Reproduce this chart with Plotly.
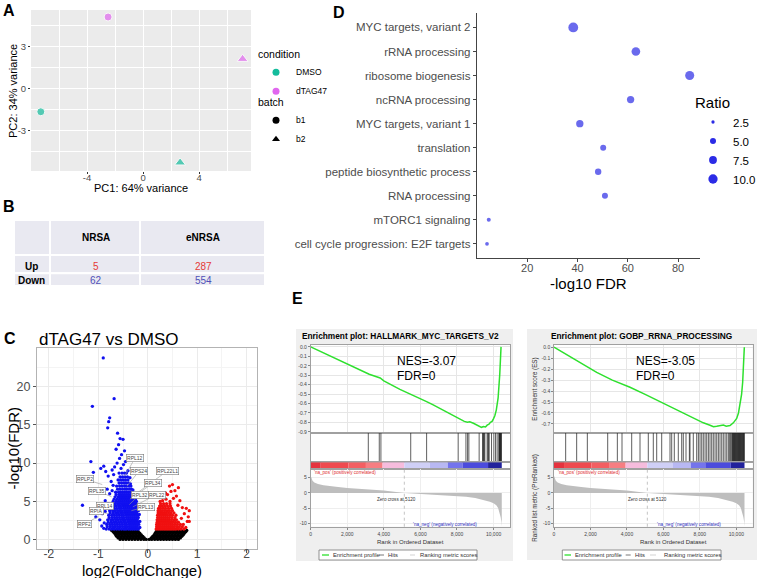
import plotly.graph_objects as go

W, H = 764, 578
FONT = "Liberation Sans"


def X(px):
    return px / W


def Y(py):
    return 1 - py / H


# ---------------- Panel A : PCA ----------------
pc1 = [-7.3, -2.5, 2.64, 7.1]
pc2 = [-1.67, 5.1, -5.3, 2.1]
condition = ["DMSO", "dTAG47", "DMSO", "dTAG47"]
batch = ["b1", "b1", "b2", "b2"]
cond_levels = ["DMSO", "dTAG47"]
batch_levels = ["b1", "b2"]
cond_colors = {"DMSO": "#14BC9C", "dTAG47": "#E067EE"}
batch_symbols = {"b1": "circle", "b2": "triangle-up"}

# ---------------- Panel B : table ----------------
table_header = ["", "NRSA", "eNRSA"]
table_rows = ["Up", "Down"]
nrsa_counts = [5, 62]
enrsa_counts = [287, 554]

# ---------------- Panel C : volcano ----------------
blue_bands = [
    (1.4, [-0.84, -0.78, -0.73, -0.68, -0.63, -0.58, -0.53, -0.48, -0.44, -0.39, -0.35, -0.31, -0.27, -0.23, -0.19]),
    (1.7, [-0.82, -0.76, -0.71, -0.66, -0.61, -0.56, -0.51, -0.46, -0.42, -0.37, -0.33, -0.29, -0.25, -0.21]),
    (2.0, [-0.83, -0.77, -0.72, -0.67, -0.62, -0.57, -0.52, -0.47, -0.43, -0.38, -0.34, -0.30, -0.26, -0.22, -0.18]),
    (2.3, [-0.80, -0.74, -0.69, -0.64, -0.59, -0.54, -0.49, -0.45, -0.40, -0.36, -0.32, -0.28, -0.24, -0.20]),
    (2.6, [-0.81, -0.75, -0.70, -0.65, -0.60, -0.55, -0.50, -0.46, -0.41, -0.37, -0.33, -0.29, -0.25, -0.21]),
    (2.9, [-0.78, -0.72, -0.67, -0.62, -0.57, -0.52, -0.48, -0.43, -0.39, -0.35, -0.31, -0.27, -0.23, -0.19]),
    (3.2, [-0.79, -0.73, -0.68, -0.63, -0.58, -0.53, -0.49, -0.44, -0.40, -0.36, -0.32, -0.28, -0.24, -0.20]),
    (3.5, [-0.76, -0.70, -0.65, -0.60, -0.55, -0.51, -0.46, -0.42, -0.38, -0.34, -0.30, -0.26, -0.22]),
    (3.8, [-0.77, -0.71, -0.66, -0.61, -0.56, -0.52, -0.47, -0.43, -0.39, -0.35, -0.31, -0.27, -0.23, -0.19]),
    (4.1, [-0.74, -0.68, -0.63, -0.58, -0.54, -0.49, -0.45, -0.41, -0.37, -0.33, -0.29, -0.25, -0.21]),
    (4.4, [-0.75, -0.69, -0.64, -0.59, -0.55, -0.50, -0.46, -0.42, -0.38, -0.34, -0.30, -0.26, -0.22]),
    (4.7, [-0.72, -0.66, -0.61, -0.57, -0.52, -0.48, -0.44, -0.40, -0.36, -0.32, -0.28, -0.24]),
    (5.0, [-0.70, -0.64, -0.59, -0.55, -0.51, -0.47, -0.43, -0.39, -0.35, -0.31, -0.27, -0.23]),
    (5.3, [-0.68, -0.62, -0.57, -0.53, -0.49, -0.45, -0.41, -0.37, -0.33, -0.29, -0.25]),
    (5.6, [-0.66, -0.60, -0.56, -0.52, -0.48, -0.44, -0.40, -0.36, -0.32, -0.28]),
    (5.9, [-0.64, -0.58, -0.54, -0.50, -0.46, -0.42, -0.38, -0.34, -0.30]),
    (6.2, [-0.65, -0.59, -0.55, -0.51, -0.47, -0.43, -0.39, -0.35, -0.31]),
    (6.6, [-0.61, -0.56, -0.51, -0.46, -0.42, -0.37, -0.33]),
    (7.0, [-0.63, -0.57, -0.52, -0.47, -0.43, -0.38, -0.34]),
    (7.4, [-0.58, -0.53, -0.48, -0.44, -0.39]),
    (7.8, [-0.60, -0.55, -0.50, -0.45, -0.40]),
    (8.2, [-0.56, -0.51, -0.46, -0.41]),
    (8.7, [-0.58, -0.52, -0.47, -0.43]),
]
blue_extra = [
    (-0.90, 23.7), (-1.12, 17.4), (-0.68, 18.4), (-0.77, 15.9), (-0.79, 15.4), (-0.81, 14.6),
    (-0.61, 13.9), (-0.56, 13.2), (-0.50, 13.1), (-0.59, 12.4), (-0.64, 11.8), (-0.47, 11.6),
    (-0.53, 11.1), (-0.57, 10.6), (-0.45, 10.2), (-0.62, 10.0), (-1.15, 10.2), (-1.10, 8.8),
    (-0.95, 9.3), (-0.89, 9.6), (-0.85, 8.9), (-0.80, 8.3), (-0.72, 9.1), (-0.67, 9.5),
    (-0.49, 9.8), (-0.54, 9.3), (-0.40, 9.0), (-0.69, 8.5), (-0.74, 7.6), (-0.70, 7.1),
    (-0.36, 8.1), (-0.35, 7.3), (-0.82, 6.6), (-0.77, 6.0), (-0.72, 6.4), (-0.86, 5.1),
    (-0.80, 4.7), (-0.91, 4.2), (-1.32, 4.5), (-1.05, 3.0), (-0.97, 2.6), (-0.92, 3.4),
    (-0.86, 3.7), (-0.88, 2.2), (-0.93, 1.8), (-0.89, 1.5), (-0.30, 6.5), (-0.27, 5.6),
    (-0.18, 4.6), (-0.17, 3.3), (-0.16, 2.4), (-0.16, 1.6),
]
red_bands = [
    (1.4, [0.17, 0.21, 0.25, 0.29, 0.33, 0.37, 0.41, 0.45, 0.49, 0.53, 0.57, 0.62, 0.67, 0.73]),
    (1.7, [0.18, 0.22, 0.26, 0.30, 0.34, 0.38, 0.42, 0.46, 0.50, 0.54, 0.59, 0.64, 0.70]),
    (2.0, [0.18, 0.22, 0.26, 0.30, 0.34, 0.38, 0.42, 0.46, 0.50, 0.55, 0.60, 0.66]),
    (2.3, [0.19, 0.23, 0.27, 0.31, 0.35, 0.39, 0.43, 0.47, 0.51, 0.56, 0.62]),
    (2.6, [0.19, 0.23, 0.27, 0.31, 0.35, 0.39, 0.43, 0.48, 0.53, 0.58]),
    (2.9, [0.20, 0.24, 0.28, 0.32, 0.36, 0.40, 0.44, 0.49, 0.55]),
    (3.2, [0.20, 0.24, 0.28, 0.32, 0.36, 0.40, 0.45, 0.50, 0.57]),
    (3.5, [0.21, 0.25, 0.29, 0.33, 0.37, 0.42, 0.47, 0.53]),
    (3.8, [0.21, 0.25, 0.29, 0.34, 0.39, 0.44, 0.50]),
    (4.1, [0.22, 0.26, 0.31, 0.36, 0.42, 0.48]),
    (4.4, [0.24, 0.29, 0.34, 0.40, 0.46]),
    (4.7, [0.26, 0.32, 0.38, 0.45]),
]
red_extra = [
    (0.30, 5.1), (0.37, 5.3), (0.45, 5.0), (0.52, 5.4), (0.58, 5.7), (0.40, 5.9), (0.47, 6.3),
    (0.55, 6.4), (0.44, 7.0), (0.50, 7.2), (0.62, 6.8), (0.65, 5.1), (0.61, 4.5), (0.70, 4.2),
    (0.78, 4.1), (0.84, 3.8), (0.74, 3.4), (0.82, 3.0), (0.80, 2.4), (0.84, 2.4), (0.68, 2.8),
    (0.72, 2.0), (0.77, 1.6), (0.36, 6.1), (0.25, 5.0),
]
black_bands = [
    (0.05, [-0.56, -0.50, -0.44, -0.38, -0.32, -0.26, -0.20, -0.14, -0.08, -0.03, 0.03, 0.08, 0.14, 0.20, 0.26, 0.32, 0.38, 0.44, 0.50, 0.56, 0.62]),
    (0.25, [-0.60, -0.54, -0.48, -0.42, -0.36, -0.30, -0.24, -0.18, -0.12, -0.07, 0.07, 0.12, 0.18, 0.24, 0.30, 0.36, 0.42, 0.48, 0.54, 0.60, 0.66]),
    (0.45, [-0.63, -0.57, -0.51, -0.45, -0.39, -0.33, -0.27, -0.21, -0.15, -0.10, 0.10, 0.16, 0.22, 0.28, 0.34, 0.40, 0.46, 0.52, 0.58, 0.64, 0.69]),
    (0.65, [-0.65, -0.59, -0.53, -0.47, -0.41, -0.35, -0.29, -0.23, -0.17, -0.13, 0.13, 0.19, 0.25, 0.31, 0.37, 0.43, 0.49, 0.55, 0.61, 0.67, 0.72]),
    (0.85, [-0.67, -0.61, -0.55, -0.49, -0.43, -0.37, -0.31, -0.25, -0.19, -0.16, 0.15, 0.21, 0.27, 0.33, 0.39, 0.45, 0.51, 0.57, 0.63, 0.69, 0.74]),
    (1.05, [-0.70, -0.64, -0.58, -0.52, -0.46, -0.40, -0.34, -0.28, -0.22, -0.19, 0.17, 0.23, 0.29, 0.35, 0.41, 0.47, 0.53, 0.59, 0.65, 0.71, 0.77]),
    (1.22, [-0.73, -0.67, -0.61, -0.55, -0.49, -0.43, -0.37, -0.31, -0.25, -0.21, 0.19, 0.25, 0.31, 0.37, 0.43, 0.49, 0.55, 0.61, 0.67, 0.73, 0.79]),
]
gene_names = ["RPL12", "RPS24", "RPL22L1", "RPLP2", "RPL34", "RPL35", "RPL32", "RPL22", "RPL14", "RPL13", "RPIA", "RPF2"]
gene_lfc = [-0.47, -0.42, -0.32, -0.92, -0.36, -0.73, -0.37, -0.30, -0.78, -0.33, -0.80, -1.00]
gene_fdr = [8.3, 7.0, 5.6, 7.2, 5.3, 5.6, 4.6, 4.3, 4.7, 3.8, 3.4, 3.0]
label_lfc = [-0.26, -0.17, 0.40, -1.27, 0.11, -1.02, -0.16, 0.18, -0.86, -0.04, -1.03, -1.28]
label_fdr = [10.6, 9.0, 9.0, 7.9, 7.4, 6.4, 5.9, 5.9, 4.4, 4.3, 3.7, 2.1]

# ---------------- Panel D : enrichment dot plot ----------------
terms = ["MYC targets, variant 2", "rRNA processing", "ribosome biogenesis", "ncRNA processing",
         "MYC targets, variant 1", "translation", "peptide biosynthetic process", "RNA processing",
         "mTORC1 signaling", "cell cycle progression: E2F targets"]
neg_log10_fdr = [38.3, 63.2, 84.6, 61.1, 40.9, 50.2, 48.2, 50.9, 4.7, 4.0]
ratio = [11.0, 8.9, 9.5, 6.7, 6.7, 5.0, 5.4, 5.0, 3.0, 2.8]
ratio_breaks = [2.5, 5.0, 7.5, 10.0]

# ---------------- Panel E : GSEA ----------------
gsea_titles = ["Enrichment plot: HALLMARK_MYC_TARGETS_V2", "Enrichment plot: GOBP_RRNA_PROCESSING"]
nes_values = ["-3.07", "-3.05"]
fdr_values = ["0", "0"]
es_rank = [
    [0, 500, 1000, 1500, 2000, 2500, 3060, 3200, 3800, 4000, 4880, 5480, 6000, 6340, 6700, 7500,
     8070, 8400, 8570, 8700, 8900, 9160, 9340, 9450, 9560, 9650, 9750, 9830, 9920, 10000, 10070,
     10150, 10250, 10340, 10390, 10410],
    [0, 1000, 2342, 3200, 4169, 5000, 5998, 6800, 7461, 8192, 8558, 8750, 8924, 9100, 9290, 9450,
     9656, 9838, 10021, 10120, 10204, 10290, 10350, 10410, 10441],
]
es_score = [
    [0.0, -0.045, -0.09, -0.135, -0.18, -0.23, -0.28, -0.29, -0.33, -0.36, -0.45, -0.50, -0.55, -0.58,
     -0.615, -0.70, -0.755, -0.79, -0.80, -0.795, -0.81, -0.835, -0.853, -0.845, -0.85, -0.83, -0.82,
     -0.80, -0.79, -0.76, -0.73, -0.67, -0.54, -0.29, -0.08, 0.0],
    [0.0, -0.10, -0.23, -0.30, -0.365, -0.43, -0.513, -0.575, -0.632, -0.69, -0.712, -0.725, -0.722,
     -0.715, -0.71, -0.72, -0.715, -0.69, -0.65, -0.60, -0.53, -0.43, -0.32, -0.15, 0.0],
]
hit_ranks = [
    [3150, 3750, 3840, 5470, 6340, 8066, 8490, 8580, 8650, 9213, 9400, 9430, 9460, 9490, 9525, 9650,
     9690, 9730, 9760, 9890, 10016, 10109, 10197, 10290, 10310, 10330, 10350, 10370, 10390, 10410, 10430],
    [640, 1243, 1829, 2945, 3475, 3731, 4262, 4718, 5173, 5447, 5634, 5908, 6364, 6456, 6600, 6819,
     7005, 7093, 7241, 7426, 7461, 7642, 7828, 7920, 8010, 8103, 8190, 8286, 8377, 8469, 8558, 8651,
     8739, 8834, 8926, 9017, 9107, 9200, 9288, 9383, 9475, 9562, 9620, 9680, 9749, 9775, 9800, 9825,
     9850, 9875, 9900, 9925, 9950, 9975, 10000, 10025, 10050, 10075, 10100, 10125, 10150, 10175,
     10200, 10225, 10250, 10275, 10300, 10325, 10350, 10375, 10400, 10420, 10440],
]
metric_rank = [0, 30, 100, 200, 400, 700, 1000, 1500, 2000, 3000, 4000, 5120, 6000, 7000, 8000, 8500,
               9000, 9500, 9800, 10000, 10150, 10250, 10330, 10390, 10430, 10450]
metric_score = [5.6, 4.8, 4.0, 3.4, 2.9, 2.5, 2.2, 1.9, 1.6, 1.2, 0.8, 0.0, -0.3, -0.6, -1.0, -1.3,
                -1.7, -2.3, -2.9, -3.4, -4.1, -5.0, -6.5, -8.0, -9.5, -11.0]
bar_edges = [0, 550, 2060, 3020, 3930, 5120, 6500, 7500, 8300, 9700, 10450]
bar_colors = ["#E5323E", "#EF4A4F", "#F35F62", "#F67E82", "#F6BCDD", "#CFCFF6", "#B8B8F3",
              "#7474EC", "#4B4BDC", "#22229C"]
zero_cross = 5120
rank_ticks = [0, 2000, 4000, 6000, 8000, 10000]

# ================= figure =================
fig = go.Figure()
annotations = []
shapes = []

RED = "#E53935"
BLUE = "#5050B8"
DOT_BLUE = "#2B2BE6"


def band_points(bands):
    xs, ys = [], []
    for yv, xl in bands:
        for xv in xl:
            xs.append(xv)
            ys.append(yv)
    return xs, ys


def extra_points(pts):
    return [p[0] for p in pts], [p[1] for p in pts]


def ann(x, y, text, size, color="black", xanchor="center", yanchor="middle", angle=0, bold=False):
    t = f"<b>{text}</b>" if bold else text
    annotations.append(dict(x=X(x), y=Y(y), xref="paper", yref="paper", text=t, showarrow=False,
                            xanchor=xanchor, yanchor=yanchor, textangle=angle,
                            font=dict(family=FONT, size=size, color=color)))


# ---- A traces ----
for c in cond_levels:
    idx = [i for i, v in enumerate(condition) if v == c]
    fig.add_trace(go.Scatter(
        x=[pc1[i] for i in idx], y=[pc2[i] for i in idx], mode="markers",
        marker=dict(color=cond_colors[c], size=[8 if batch[i] == "b1" else 9.5 for i in idx],
                    symbol=[batch_symbols[batch[i]] for i in idx]),
        showlegend=False, xaxis="x", yaxis="y", hoverinfo="skip"))
for c in cond_levels:
    fig.add_trace(go.Scatter(x=[None], y=[None], mode="markers", name=c, legend="legend",
                             marker=dict(color=cond_colors[c], size=7, symbol="circle"),
                             xaxis="x", yaxis="y"))
for b in batch_levels:
    fig.add_trace(go.Scatter(x=[None], y=[None], mode="markers", name=b, legend="legend2",
                             marker=dict(color="black", size=7, symbol=batch_symbols[b]),
                             xaxis="x", yaxis="y"))
shapes.append(dict(type="rect", xref="x domain", yref="y domain", x0=0, x1=1, y0=0, y1=1,
                   fillcolor="#EBEBEB", line=dict(width=0), layer="below"))

# ---- B table (cells drawn as shapes, values as text) ----
TBL_COLS = [14, 50, 140, 265]
TBL_ROWS = [220, 255, 273.3, 286]
TBL_TEXT_Y = [237.3, 266.2, 280]
TBL_TEXT_X = [31, 95.5, 203]
for ci in range(3):
    for ri in range(3):
        shapes.append(dict(type="rect", xref="paper", yref="paper",
                           x0=X(TBL_COLS[ci]), x1=X(TBL_COLS[ci + 1]),
                           y0=Y(TBL_ROWS[ri + 1]), y1=Y(TBL_ROWS[ri]),
                           fillcolor="#E9E9F1", line=dict(color="white", width=2)))
for ci, h in enumerate(table_header):
    if h:
        ann(TBL_TEXT_X[ci], TBL_TEXT_Y[0], h, 10, bold=True)
for ri, r in enumerate(table_rows):
    ann(TBL_TEXT_X[0], TBL_TEXT_Y[ri + 1], r, 10, bold=True)
    ann(TBL_TEXT_X[1], TBL_TEXT_Y[ri + 1], str(nrsa_counts[ri]), 10, color=RED if ri == 0 else BLUE)
    ann(TBL_TEXT_X[2], TBL_TEXT_Y[ri + 1], str(enrsa_counts[ri]), 10, color=RED if ri == 0 else BLUE)

# ---- C volcano ----
bx, by = band_points(black_bands)
fig.add_trace(go.Scatter(x=bx, y=by, mode="markers", marker=dict(color="black", size=3.3),
                         showlegend=False, xaxis="x2", yaxis="y2", hoverinfo="skip"))
ux, uy = band_points(blue_bands)
ex, ey = extra_points(blue_extra)
fig.add_trace(go.Scatter(x=ux + ex, y=uy + ey, mode="markers", marker=dict(color="#1010F0", size=3.3),
                         showlegend=False, xaxis="x2", yaxis="y2", hoverinfo="skip"))
rx, ry = band_points(red_bands)
ex, ey = extra_points(red_extra)
fig.add_trace(go.Scatter(x=rx + ex, y=ry + ey, mode="markers", marker=dict(color="#F01010", size=3.3),
                         showlegend=False, xaxis="x2", yaxis="y2", hoverinfo="skip"))
for g, gx, gy, lx, ly in zip(gene_names, gene_lfc, gene_fdr, label_lfc, label_fdr):
    annotations.append(dict(x=gx, y=gy, xref="x2", yref="y2", ax=lx, ay=ly, axref="x2", ayref="y2",
                            text=g, showarrow=True, arrowhead=0, arrowwidth=0.6, arrowcolor="#999999",
                            standoff=0, bgcolor="white", bordercolor="#777777", borderwidth=0.6,
                            borderpad=0.5, font=dict(family=FONT, size=5, color="#444444")))

# ---- D dot plot ----
def ratio_size(r):
    return (10.9 + 10.08 * (r - 2.5)) ** 0.5


fig.add_trace(go.Scatter(x=neg_log10_fdr, y=terms, mode="markers",
                         marker=dict(color=DOT_BLUE, size=[ratio_size(r) for r in ratio], line=dict(width=0)),
                         showlegend=False, xaxis="x3", yaxis="y3", hoverinfo="skip"))
for r in ratio_breaks:
    fig.add_trace(go.Scatter(x=[None], y=[None], mode="markers", name=f"{r:.1f}", legend="legend3",
                             marker=dict(color=DOT_BLUE, size=ratio_size(r)), xaxis="x3", yaxis="y3"))

# ---- E GSEA cards ----
card_px = [(310.7, 510.0), (554.0, 752.7)]
card_bg = [(296, 513, 329, 561), (527, 757, 329, 560)]
es_ranges = [[-0.91, 0.02], [-0.78, 0.02]]
es_nticks = [10, 8]
ES_Y = (345, 432.7)
HIT_Y = (432.7, 462.3)
BAR_Y = (462.3, 469.3)
MET_Y = (469.3, 526.7)
layout_axes = {}

for k in range(2):
    x0, x1 = card_px[k]
    n0 = 4 + 4 * k
    ids = [n0, n0 + 1, n0 + 2, n0 + 3]
    xd = [X(x0), X(x1)]
    cbx0, cbx1, cby0, cby1 = card_bg[k]
    shapes.append(dict(type="rect", xref="paper", yref="paper", x0=X(cbx0), x1=X(cbx1), y0=Y(cby1), y1=Y(cby0),
                       fillcolor="#EFEFEF", line=dict(width=0), layer="below"))
    shapes.append(dict(type="rect", xref="paper", yref="paper", x0=X(x0), x1=X(x1), y0=Y(MET_Y[1]), y1=Y(ES_Y[0]),
                       fillcolor="white", line=dict(width=0), layer="below"))
    common_x = dict(domain=xd, range=[0, 10900], zeroline=False, showline=True, mirror=True,
                    linecolor="#A0A0A0", linewidth=0.6)
    tv = [-i / 10 for i in range(es_nticks[k])]
    tt = ["0.0"] + [f"-0.{i}" for i in range(1, es_nticks[k])]
    layout_axes[f"xaxis{ids[0]}"] = dict(common_x, anchor=f"y{ids[0]}", tickvals=rank_ticks, showticklabels=False,
                                         ticks="", showgrid=True, gridcolor="#E6E6E6", gridwidth=0.5)
    layout_axes[f"yaxis{ids[0]}"] = dict(domain=[Y(ES_Y[1]), Y(ES_Y[0])], range=es_ranges[k], anchor=f"x{ids[0]}",
                                         tickvals=tv, ticktext=tt, ticks="outside", ticklen=2, tickwidth=0.5,
                                         tickcolor="#888", tickfont=dict(family=FONT, size=5, color="#444"),
                                         showgrid=True, gridcolor="#E6E6E6", gridwidth=0.5, zeroline=False,
                                         showline=True, mirror=True, linecolor="#A0A0A0", linewidth=0.6)
    layout_axes[f"xaxis{ids[1]}"] = dict(common_x, anchor=f"y{ids[1]}", showticklabels=False, ticks="", showgrid=False)
    layout_axes[f"yaxis{ids[1]}"] = dict(domain=[Y(HIT_Y[1]), Y(HIT_Y[0])], range=[0, 1], anchor=f"x{ids[1]}",
                                         showticklabels=False, ticks="", showgrid=False, zeroline=False,
                                         showline=True, mirror=True, linecolor="#A0A0A0", linewidth=0.6)
    layout_axes[f"xaxis{ids[2]}"] = dict(common_x, anchor=f"y{ids[2]}", showticklabels=False, ticks="", showgrid=False)
    layout_axes[f"yaxis{ids[2]}"] = dict(domain=[Y(BAR_Y[1]), Y(BAR_Y[0])], range=[-0.5, 0.5], anchor=f"x{ids[2]}",
                                         showticklabels=False, ticks="", showgrid=False, zeroline=False,
                                         showline=True, mirror=True, linecolor="#A0A0A0", linewidth=0.6)
    layout_axes[f"xaxis{ids[3]}"] = dict(common_x, anchor=f"y{ids[3]}", tickvals=rank_ticks,
                                         ticktext=[f"{t:,}" for t in rank_ticks], ticks="outside", ticklen=2,
                                         tickwidth=0.5, tickcolor="#888",
                                         tickfont=dict(family=FONT, size=5, color="#444"),
                                         showgrid=True, gridcolor="#EEEEEE", gridwidth=0.5)
    layout_axes[f"yaxis{ids[3]}"] = dict(domain=[Y(MET_Y[1]), Y(MET_Y[0])], range=[-11.12, 7.76], anchor=f"x{ids[3]}",
                                         tickvals=[5, 0, -5, -10], ticktext=["5", "0", "-5", "-10"],
                                         ticks="outside", ticklen=2, tickwidth=0.5, tickcolor="#888",
                                         tickfont=dict(family=FONT, size=5, color="#444"),
                                         showgrid=True, gridcolor="#EEEEEE", gridwidth=0.5, zeroline=False,
                                         showline=True, mirror=True, linecolor="#A0A0A0", linewidth=0.6)
    fig.add_trace(go.Scatter(x=es_rank[k], y=es_score[k], mode="lines", line=dict(color="#2EE02E", width=1.5),
                             showlegend=False, xaxis=f"x{ids[0]}", yaxis=f"y{ids[0]}", hoverinfo="skip"))
    hx, hy = [], []
    for r in hit_ranks[k]:
        hx += [r, r, None]
        hy += [0, 1, None]
    fig.add_trace(go.Scatter(x=hx, y=hy, mode="lines", line=dict(color="#1A1A1A", width=0.7),
                             showlegend=False, xaxis=f"x{ids[1]}", yaxis=f"y{ids[1]}", hoverinfo="skip"))
    fig.add_trace(go.Bar(x=[bar_edges[i + 1] - bar_edges[i] for i in range(len(bar_colors))],
                         base=bar_edges[:-1], y=[0] * len(bar_colors), orientation="h", width=1,
                         marker=dict(color=bar_colors, line=dict(width=0)), showlegend=False,
                         xaxis=f"x{ids[2]}", yaxis=f"y{ids[2]}", hoverinfo="skip"))
    fig.add_trace(go.Scatter(x=metric_rank, y=metric_score, mode="lines", fill="tozeroy",
                             fillcolor="#BEBEBE", line=dict(width=0, color="#BEBEBE"),
                             showlegend=False, xaxis=f"x{ids[3]}", yaxis=f"y{ids[3]}", hoverinfo="skip"))
    shapes.append(dict(type="line", xref=f"x{ids[3]}", yref=f"y{ids[3]} domain", x0=zero_cross, x1=zero_cross,
                       y0=0, y1=1, line=dict(color="#AAAAAA", width=0.7, dash="dot")))

# ---- layout axes for A, C, D ----
tick_a = dict(family=FONT, size=9.5, color="#4D4D4D")
layout_axes["xaxis"] = dict(domain=[X(31), X(251)], range=[-8.0, 7.7], anchor="y", tickvals=[-4, 0, 4],
                            ticktext=["-4", "0", "4"], ticks="outside", ticklen=2, tickcolor="#333",
                            ticklabelstandoff=-4,
                            tickfont=tick_a, showgrid=True, gridcolor="white", gridwidth=1.1, zeroline=False,
                            minor=dict(tickvals=[-6, -2, 2, 6], showgrid=True, gridcolor="white", gridwidth=0.5, ticks=""))
layout_axes["yaxis"] = dict(domain=[Y(171), Y(10)], range=[-5.9, 5.6], anchor="x", tickvals=[-3, 0, 3],
                            ticktext=["-3", "0", "3"], ticks="outside", ticklen=2, tickcolor="#333",
                            tickfont=tick_a, showgrid=True, gridcolor="white", gridwidth=1.1, zeroline=False,
                            minor=dict(tickvals=[-4.5, -1.5, 1.5, 4.5], showgrid=True, gridcolor="white", gridwidth=0.5, ticks=""))
tick_c = dict(family=FONT, size=12, color="#4D4D4D")
layout_axes["xaxis2"] = dict(domain=[X(37), X(257)], range=[-2.24, 2.21], anchor="y2", tickvals=[-2, -1, 0, 1, 2],
                             ticktext=["-2", "-1", "0", "1", "2"], ticks="outside", ticklen=3, tickcolor="#555",
                             ticklabelstandoff=-9,
                             tickfont=tick_c, showgrid=True, gridcolor="#EBEBEB", gridwidth=0.8, zeroline=False,
                             showline=True, mirror=True, linecolor="#B3B3B3", linewidth=1,
                             minor=dict(tickvals=[-1.5, -0.5, 0.5, 1.5], showgrid=True, gridcolor="#F4F4F4", gridwidth=0.5, ticks=""))
layout_axes["yaxis2"] = dict(domain=[Y(549), Y(348)], range=[-1.2, 25.0], anchor="x2", tickvals=[0, 5, 10, 15, 20],
                             ticks="outside", ticklen=3, tickcolor="#555",
                             tickfont=dict(family=FONT, size=12.5, color="#4D4D4D"), showgrid=True,
                             gridcolor="#EBEBEB", gridwidth=0.8, zeroline=False,
                             showline=True, mirror=True, linecolor="#B3B3B3", linewidth=1,
                             minor=dict(tickvals=[2.5, 7.5, 12.5, 17.5, 22.5], showgrid=True, gridcolor="#F4F4F4", gridwidth=0.5, ticks=""))
layout_axes["xaxis3"] = dict(domain=[X(476.7), X(700)], range=[-0.1, 88.7], anchor="y3", tickvals=[20, 40, 60, 80],
                             ticks="outside", ticklen=3, tickcolor="#444", ticklabelstandoff=-3,
                             tickfont=dict(family=FONT, size=11, color="#4D4D4D"), showgrid=False, zeroline=False,
                             showline=True, linecolor="#444", linewidth=0.9)
layout_axes["yaxis3"] = dict(domain=[Y(258.3), Y(13)], range=[-0.6, 9.6], anchor="x3", type="category",
                             categoryorder="array", categoryarray=terms[::-1], ticks="outside", ticklen=3,
                             tickcolor="#444", tickfont=dict(family=FONT, size=11.5, color="#4D4D4D"),
                             showgrid=False, zeroline=False, showline=True, linecolor="#444", linewidth=0.9)

# ---- text annotations ----
ann(1, 10, "A", 16, xanchor="left", bold=True)
ann(1, 206, "B", 16, xanchor="left", bold=True)
ann(2, 338, "C", 16, xanchor="left", bold=True)
ann(331, 12.7, "D", 16, xanchor="left", bold=True)
ann(290, 298, "E", 16, xanchor="left", bold=True)

ann(141, 188, "PC1: 64% variance", 11)
ann(13, 91, "PC2: 34% variance", 11, angle=-90)
ann(36.7, 339, "dTAG47 vs DMSO", 17, xanchor="left")
ann(141.7, 570, "log2(FoldChange)", 15)
ann(13, 448.5, "-log10(FDR)", 15, angle=-90)
ann(588, 283.5, "-log10 FDR", 15)

title_cx = [400, 641.7]
nes_x = [395, 634.3]
pos_x = [312, 555.5]
zero_cx = [396, 647.2]
neg_cx = [445.5, 688.7]
rank_cx = [410, 673]
leg_box = [(319, 477), (562.3, 721)]
leg_items = [[(322, 329, 331), (379, 384, 386), (410, 415, 418.3)],
             [(564.5, 571, 572.5), (625.7, 630.7, 632.5), (650, 656, 661.7)]]
leg_texts = ["Enrichment profile", "Hits", "Ranking metric scores"]
leg_colors = ["#2EE02E", "#555555", "#C8C8C8"]
for k in range(2):
    ann(title_cx[k], 336, gsea_titles[k], 8.3, bold=True)
    ann(nes_x[k], 361, f"NES={nes_values[k]}", 12, xanchor="left")
    ann(nes_x[k], 376, f"FDR={fdr_values[k]}", 12, xanchor="left")
    ann(pos_x[k], 472.7, "'na_pos' (positively correlated)", 4.6, color="#E03030", xanchor="left")
    ann(zero_cx[k], 499.3, f"Zero cross at {zero_cross}", 4.6, color="#333")
    ann(neg_cx[k], 524.5, "'na_neg' (negatively correlated)", 4.6, color="#3030C0")
    ann(rank_cx[k], 542.3, "Rank in Ordered Dataset", 6, color="#333")
    bx0, bx1 = leg_box[k]
    shapes.append(dict(type="rect", xref="paper", yref="paper", x0=X(bx0), x1=X(bx1), y0=Y(560), y1=Y(550),
                       fillcolor="white", line=dict(color="#777777", width=0.8)))
    for (lx0, lx1, tx), txt, col in zip(leg_items[k], leg_texts, leg_colors):
        shapes.append(dict(type="line", xref="paper", yref="paper", x0=X(lx0), x1=X(lx1), y0=Y(555), y1=Y(555),
                           line=dict(color=col, width=1.3 if col == "#2EE02E" else 0.8)))
        ann(tx, 555, txt, 5.8, color="#333", xanchor="left")
ann(534.7, 389, "Enrichment score (ES)", 6.3, color="#333", angle=-90)
ann(534.7, 498, "Ranked list metric (PreRanked)", 6.3, color="#333", angle=-90)

fig.update_layout(
    template="none",
    width=W, height=H, autosize=False,
    margin=dict(l=0, r=0, t=0, b=0, pad=0),
    paper_bgcolor="white", plot_bgcolor="rgba(0,0,0,0)",
    font=dict(family=FONT, size=10, color="black"),
    showlegend=True, barmode="overlay",
    annotations=annotations, shapes=shapes,
    legend=dict(title=dict(text="condition", font=dict(family=FONT, size=10.5, color="black")),
                font=dict(family=FONT, size=8.5, color="black"), x=X(256), y=Y(44), xanchor="left",
                yanchor="top", bgcolor="rgba(0,0,0,0)", itemsizing="trace", tracegroupgap=0),
    legend2=dict(title=dict(text="batch", font=dict(family=FONT, size=10.5, color="black")),
                 font=dict(family=FONT, size=8.5, color="black"), x=X(256), y=Y(92), xanchor="left",
                 yanchor="top", bgcolor="rgba(0,0,0,0)", itemsizing="trace", tracegroupgap=0),
    legend3=dict(title=dict(text="Ratio", font=dict(family=FONT, size=15, color="black")),
                 font=dict(family=FONT, size=11.5, color="black"), x=X(693), y=Y(88), xanchor="left",
                 yanchor="top", bgcolor="rgba(0,0,0,0)", itemsizing="trace", tracegroupgap=0),
    **layout_axes,
)

fig.write_html("out.html")
